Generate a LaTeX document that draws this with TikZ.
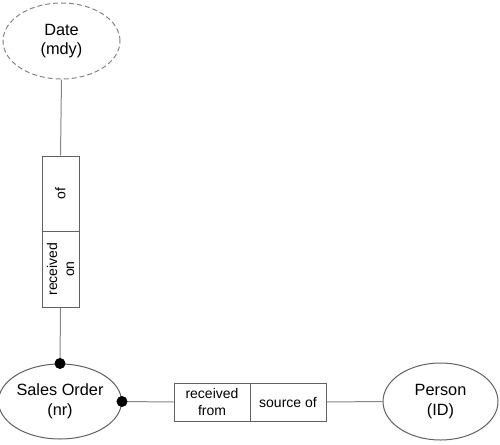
\documentclass[tikz,border=0pt]{standalone}
\usepackage{fontspec}
\setmainfont{Liberation Sans}
\usetikzlibrary{shapes.geometric}
\definecolor{linec}{rgb}{0.38,0.38,0.38}
\definecolor{connc}{rgb}{0.52,0.52,0.52}
\tikzset{
  ent/.style={ellipse, draw=linec, line width=1pt, minimum width=115pt, minimum height=76pt, inner sep=0pt, align=center, font=\fontsize{16.3}{19.5}\selectfont},
  relbox/.style={rectangle, draw=linec, line width=1pt, inner sep=0pt},
  rellbl/.style={align=center, inner sep=0pt, font=\fontsize{14}{17}\selectfont},
  conn/.style={draw=connc, line width=1pt},
  dotm/.style={circle, fill=black, minimum size=11pt, inner sep=0pt},
}
\begin{document}
\begin{tikzpicture}[x=1pt,y=1pt]
\useasboundingbox (0,0) rectangle (500,-444);
% entities
\node[ent, dash pattern=on 5pt off 3pt, draw=connc, minimum width=117pt] (date) at (61.5,-41) {Date\\(mdy)};
\node[ent, minimum width=114pt, minimum height=75pt] (so) at (60,-401.5) {Sales Order\\(nr)};
\node[ent, minimum height=77pt] (person) at (440.5,-401.5) {Person\\(ID)};
% vertical relationship box
\node[relbox, minimum width=37pt, minimum height=75pt] (ofbox) at (60.5,-193.5) {};
\node[relbox, minimum width=37pt, minimum height=76pt] (recbox) at (60.5,-269) {};
\node[rellbl, rotate=90] (oflbl) at (ofbox) {of};
\node[rellbl, rotate=90] (reclbl) at (recbox) {received\\on};
% horizontal relationship box
\node[relbox, minimum width=76pt, minimum height=38pt] (rfbox) at (212,-402) {};
\node[relbox, minimum width=76pt, minimum height=38pt] (srcbox) at (288,-402) {};
\node[rellbl] (rflbl) at (rfbox) {received\\from};
\node[rellbl] (srclbl) at (srcbox) {source of};
% connectors
\draw[conn] (date.south) -- (ofbox.north);
\draw[conn] (recbox.south) -- (so.north);
\draw[conn] (so.east) -- (rfbox.west);
\draw[conn] (srcbox.east) -- (person.west);
% dots
\node[dotm] (dtop) at (so.north) {};
\node[dotm] (dright) at (so.east) {};
\end{tikzpicture}
\end{document}
